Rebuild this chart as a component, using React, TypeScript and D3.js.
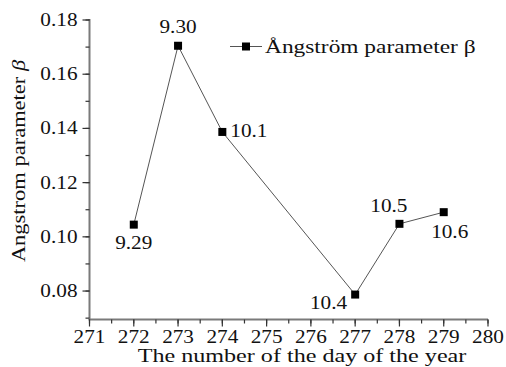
import React from "react";
import * as d3 from "d3";

const days = [272, 273, 274, 277, 278, 279];
const beta = [0.1045, 0.1705, 0.1387, 0.0787, 0.1048, 0.1091];
const labels = ["9.29", "9.30", "10.1", "10.4", "10.5", "10.6"];
const labelPos = ["below", "above", "right", "leftbelow", "leftabove", "belowright"];
const xTicks = [271, 272, 273, 274, 275, 276, 277, 278, 279, 280];
const yTicks = [0.08, 0.1, 0.12, 0.14, 0.16, 0.18];

const W = 506, H = 367;
const FONT = "'Liberation Serif', 'Times New Roman', serif";
const FS = 18;
const SX = 1.18;

function T(props: { x: number; y: number; anchor?: string; rotate?: number; sx?: number; children: React.ReactNode }) {
  const { x, y, anchor = "start", rotate = 0, sx = SX, children } = props;
  return (
    <g transform={`translate(${x},${y}) rotate(${rotate}) scale(${sx},1)`}>
      <text x={0} y={0} textAnchor={anchor} fontSize={FS} fill="#111" fontFamily={FONT}>{children}</text>
    </g>
  );
}

export default function App() {
  const x = d3.scaleLinear().domain([271, 280]).range([89.5, 488]);
  const y = d3.scaleLinear().domain([0.0695, 0.18]).range([319.5, 20]);
  const line = d3.line<number>().x((_, i) => x(days[i])).y((d) => y(d));
  const xMinor = d3.range(271, 280.01, 0.5);
  const yMinor = d3.range(0.07, 0.1801, 0.01);
  const axisColor = "#7a7a7a";

  const labelProps = (pos: string, px: number, py: number) => {
    switch (pos) {
      case "below": return { x: px, y: py + 24, anchor: "middle" };
      case "above": return { x: px, y: py - 13, anchor: "middle" };
      case "right": return { x: px + 8, y: py + 5.5, anchor: "start" };
      case "leftbelow": return { x: px - 8, y: py + 14, anchor: "end" };
      case "leftabove": return { x: px + 8, y: py - 12, anchor: "end" };
      default: return { x: px + 6, y: py + 26, anchor: "middle" };
    }
  };

  return (
    <svg width={W} height={H} style={{ position: "absolute", left: 0, top: 0, background: "#fff" }}>
      {/* y axis */}
      <line x1={x(271)} x2={x(271)} y1={y(0.18) - 1} y2={y.range()[0]} stroke={axisColor} strokeWidth={2} />
      {yMinor.map((v, i) => (
        <line key={"ym" + i} x1={x(271) - 4} x2={x(271)} y1={y(v)} y2={y(v)} stroke="#333" strokeWidth={1.2} />
      ))}
      {yTicks.map((v) => (
        <g key={"yt" + v}>
          <line x1={x(271) - 7} x2={x(271)} y1={y(v)} y2={y(v)} stroke="#333" strokeWidth={1.2} />
          <T x={x(271) - 12} y={y(v) + 6} anchor="end">{d3.format(".2f")(v)}</T>
        </g>
      ))}
      {/* x axis */}
      <line x1={x(271) - 1} x2={x(280)} y1={y.range()[0]} y2={y.range()[0]} stroke={axisColor} strokeWidth={2} />
      {xMinor.map((v, i) => (
        <line key={"xm" + i} x1={x(v)} x2={x(v)} y1={y.range()[0]} y2={y.range()[0] + 4} stroke="#333" strokeWidth={1.2} />
      ))}
      {xTicks.map((v) => (
        <g key={"xt" + v}>
          <line x1={x(v)} x2={x(v)} y1={y.range()[0]} y2={y.range()[0] + 7} stroke="#333" strokeWidth={1.2} />
          <T x={x(v)} y={343} anchor="middle">{v}</T>
        </g>
      ))}
      <T x={302} y={362} anchor="middle" sx={1.34}>The number of the day of the year</T>
      <T x={25} y={161} anchor="middle" rotate={-90} sx={1.25}>
        Angstrom parameter <tspan fontStyle="italic">β</tspan>
      </T>
      {/* series */}
      <path d={line(beta) || ""} fill="none" stroke="#555" strokeWidth={1} />
      {beta.map((v, i) => (
        <rect key={"m" + i} x={x(days[i]) - 4} y={y(v) - 4} width={8} height={8} fill="#000" />
      ))}
      {beta.map((v, i) => {
        const p = labelProps(labelPos[i], x(days[i]), y(v));
        return <T key={"l" + i} x={p.x} y={p.y} anchor={p.anchor}>{labels[i]}</T>;
      })}
      {/* legend */}
      <line x1={230} x2={262} y1={46.5} y2={46.5} stroke="#555" strokeWidth={1} />
      <rect x={242} y={42.5} width={8} height={8} fill="#000" />
      <T x={265} y={52.5} sx={1.3}>Ångström parameter β</T>
    </svg>
  );
}
